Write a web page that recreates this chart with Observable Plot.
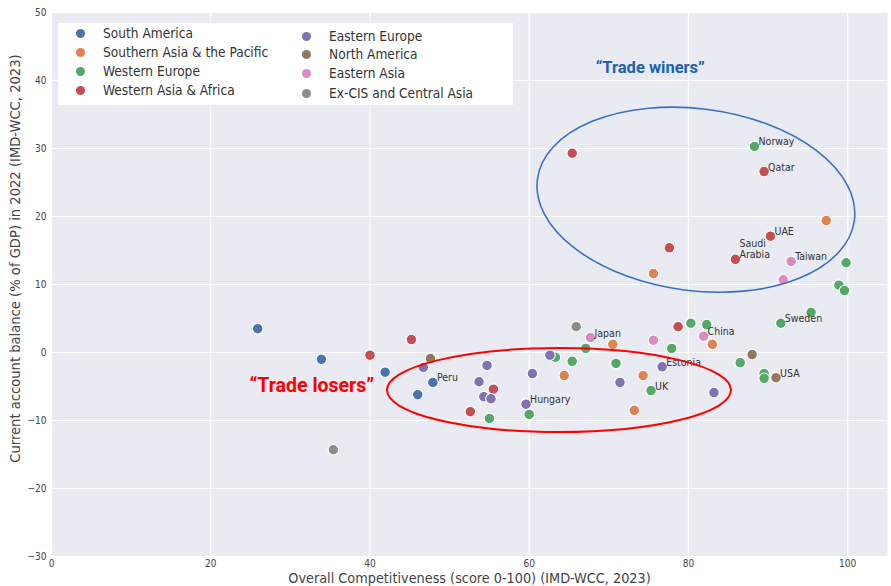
<!DOCTYPE html>
<html>
<head>
<meta charset="utf-8">
<script src="https://cdn.jsdelivr.net/npm/d3@7"></script>
<script src="https://cdn.jsdelivr.net/npm/@observablehq/plot@0.6"></script>
<style>
  body { margin: 0; background: #fff; }
  #wrap { position: relative; width: 891px; height: 586px; overflow: hidden; }
  #legend { position: absolute; left: 58px; top: 23px; width: 455px; height: 82px; background: #fff;
            font-family: "DejaVu Sans Condensed", "Liberation Sans", sans-serif; font-size: 13.6px; color: #333; }
  .li { position: absolute; white-space: nowrap; line-height: 16px; }
  .li .mk { position: absolute; width: 9px; height: 9px; border-radius: 50%; top: 4px; }
</style>
</head>
<body>
<div id="wrap"><div id="legend"></div></div>
<script>
// ---- data ----
const regions = ["South America", "Southern Asia & the Pacific", "Western Europe", "Western Asia & Africa",
                 "Eastern Europe", "North America", "Eastern Asia", "Ex-CIS and Central Asia"];
const regionColors = ["#4c72b0", "#dd8452", "#55a868", "#c44e52", "#8172b3", "#937860", "#da8bc3", "#8c8c8c"];

// [competitiveness score, current account balance, label]
const southAmerica = [[25.9, 3.5], [33.9, -1.0], [41.9, -2.9], [47.9, -4.4, "Peru"], [46.0, -6.2]];
const southernAsiaPacific = [[97.3, 19.4], [75.6, 11.6], [70.5, 1.2], [83.0, 1.2], [64.4, -3.4], [74.3, -3.4], [73.2, -8.5]];
const westernEurope = [[88.3, 30.3, "Norway"], [99.8, 13.2], [98.9, 9.9], [99.6, 9.1], [95.4, 5.9], [91.6, 4.3, "Sweden"],
                       [80.3, 4.3], [82.3, 4.1], [77.9, 0.6], [67.1, 0.6], [86.5, -1.5], [89.5, -3.1], [89.5, -3.8],
                       [65.4, -1.3], [70.9, -1.6], [75.3, -5.6, "UK"], [63.3, -0.7], [60.0, -9.1], [55.0, -9.7]];
const westernAsiaAfrica = [[65.4, 29.3], [89.5, 26.6, "Qatar"], [90.3, 17.1, "UAE"], [85.9, 13.7, "Saudi\nArabia"],
                           [77.6, 15.4], [78.7, 3.8], [40.0, -0.4], [45.2, 1.9], [55.5, -5.4], [52.6, -8.7]];
const easternEurope = [[46.7, -2.2], [54.7, -1.9], [53.7, -4.3], [54.3, -6.5], [55.2, -6.8], [60.4, -3.1], [62.6, -0.4],
                       [59.6, -7.6, "Hungary"], [71.4, -4.4], [76.7, -2.1, "Estonia"], [83.2, -5.9]];
const northAmerica = [[47.6, -0.9], [88.0, -0.3], [91.0, -3.7, "USA"]];
const easternAsia = [[67.7, 2.2, "Japan"], [75.6, 1.8], [81.9, 2.4, "China"], [92.9, 13.4, "Taiwan"], [91.9, 10.7]];
const exCIS = [[65.9, 3.8], [35.4, -14.3]];

const xTicks = [0, 20, 40, 60, 80, 100];
const yTicks = [-30, -20, -10, 0, 10, 20, 30, 40, 50];
const xTitle = "Overall Competitiveness (score 0-100) (IMD-WCC, 2023)";
const yTitle = "Current account balance (% of GDP) in 2022 (IMD-WCC, 2023)";

// annotations: text, x, y (data units), colour, size
const annotations = [
  {text: "\u201cTrade winers\u201d", x: 75.2, y: 41.9, color: "#1b63b0", size: 16.5},
  {text: "\u201cTrade losers\u201d", x: 32.7, y: -4.9, color: "#ff0000", size: 19.5}
];
// ellipses: centre in data units, radii in pixels, rotation in degrees
const ellipses = [
  {cx: 81.0, cy: 22.4, rx: 159.8, ry: 91, angle: 7.4, color: "#3b6fc6", width: 1.6},
  {cx: 63.8, cy: -5.6, rx: 172, ry: 42, angle: 0, color: "#ff0000", width: 2}
];

// ---- build table ----
const groups = [southAmerica, southernAsiaPacific, westernEurope, westernAsiaAfrica, easternEurope, northAmerica, easternAsia, exCIS];
const points = groups.flatMap((g, i) => g.map(([x, y, label]) => ({region: regions[i], x, y, label})));

const font = "'DejaVu Sans Condensed', 'Liberation Sans', sans-serif";

const chart = Plot.plot({
  width: 891,
  height: 586,
  marginLeft: 51,
  marginRight: 4,
  marginTop: 12,
  marginBottom: 30,
  style: {fontFamily: font, fontSize: "10px", color: "#444", background: "#fff", overflow: "visible"},
  x: {domain: [0, 105], ticks: xTicks, tickSize: 0, tickPadding: 3, label: null, tickFormat: d3.format("d")},
  y: {domain: [-30, 50], ticks: yTicks, tickSize: 0, tickPadding: 5, label: null, tickFormat: d3.format("d")},
  color: {domain: regions, range: regionColors},
  marks: [
    Plot.frame({fill: "#eaeaf2", stroke: null}),
    Plot.gridX(xTicks, {stroke: "#fff", strokeOpacity: 1, strokeWidth: 1.2}),
    Plot.gridY(yTicks, {stroke: "#fff", strokeOpacity: 1, strokeWidth: 1.2}),
    Plot.dot(points, {x: "x", y: "y", fill: "region", r: 5.3, stroke: "#fff", strokeWidth: 1.1, fillOpacity: 1}),
    Plot.text(points.filter(d => d.label), {x: "x", y: "y", text: "label", textAnchor: "start", lineAnchor: "bottom",
      dx: 4, dy: -1, fontSize: 10.5, fill: "#333", lineHeight: 1.05}),
    Plot.text(annotations, {x: "x", y: "y", text: "text", fill: d => d.color, fontSize: d => d.size,
      fontWeight: "bold", fontFamily: "Roboto, 'Liberation Sans', sans-serif"}),
    Plot.text([xTitle], {frameAnchor: "bottom", textAnchor: "middle", lineAnchor: "middle", dy: 22, fontSize: 14.3, fill: "#444"}),
    Plot.text([yTitle], {frameAnchor: "left", textAnchor: "middle", lineAnchor: "middle", dx: -36, dy: -26, rotate: -90, fontSize: 14.6, fill: "#444"})
  ]
});

const wrap = document.getElementById("wrap");
wrap.insertBefore(chart, wrap.firstChild);

// ellipses placed through the plot's scales
const sx = chart.scale("x"), sy = chart.scale("y");
const svg = d3.select(chart.tagName.toLowerCase() === "svg" ? chart : chart.querySelector("svg"));
svg.append("g").selectAll("ellipse").data(ellipses).join("ellipse")
  .attr("cx", 0).attr("cy", 0)
  .attr("rx", d => d.rx).attr("ry", d => d.ry)
  .attr("transform", d => `translate(${sx.apply(d.cx)},${sy.apply(d.cy)}) rotate(${d.angle})`)
  .attr("fill", "none").attr("stroke", d => d.color).attr("stroke-width", d => d.width);

// legend
const legend = d3.select("#legend");
const colLeft = [22, 248];
const rowTop = [[2, 21, 40, 59], [5, 23, 42, 62]];
regions.forEach((r, i) => {
  const col = i < 4 ? 0 : 1, row = i % 4;
  const item = legend.append("div").attr("class", "li")
    .style("left", (colLeft[col]) + "px").style("top", rowTop[col][row] + "px");
  item.append("span").attr("class", "mk").style("left", "-4px").style("background", regionColors[i]);
  item.append("span").style("margin-left", "23px").text(r);
});
</script>
</body>
</html>
